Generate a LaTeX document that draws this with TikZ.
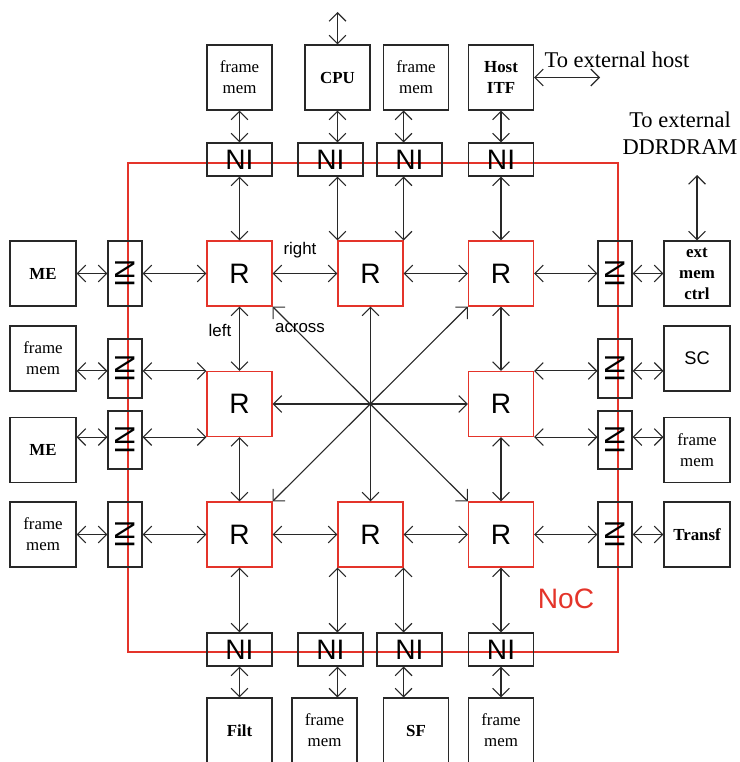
\documentclass[tikz,border=0pt]{standalone}
\usepackage{fontspec}
\setmainfont{Liberation Serif}
\setsansfont{Liberation Sans}
\usepackage{graphicx}
\usetikzlibrary{arrows.meta, positioning}
\definecolor{nocred}{RGB}{228,52,42}
\definecolor{linegray}{RGB}{40,40,40}

\begin{document}
\begin{tikzpicture}[x=0.025cm, y=-0.025cm, line width=0.8pt,
    >={Straight Barb[length=2.1mm,width=4.2mm]},
    unit/.style={draw=linegray, minimum width=1.625cm, minimum height=1.625cm, inner sep=1pt, align=center, font=\fontsize{12}{15}\selectfont},
    bunit/.style={unit, font=\fontsize{12}{15}\selectfont\bfseries},
    router/.style={draw=nocred, minimum width=1.625cm, minimum height=1.625cm, inner sep=0pt, font=\sffamily\fontsize{20}{20}\selectfont},
    ni/.style={draw=linegray, minimum width=1.625cm, minimum height=0.825cm, inner sep=0pt, font=\sffamily\fontsize{20}{20}\selectfont},
    sideni/.style={ni, minimum width=0.85cm, minimum height=1.625cm},
    link/.style={<->, draw=linegray},
    lbl/.style={font=\sffamily\fontsize{12}{14}\selectfont},
    ext/.style={align=center, inner sep=0pt, font=\fontsize{16}{19}\selectfont}]
    \useasboundingbox (0,0) rectangle (740,762);

    \draw[nocred] (128,163) rectangle (618,652);
    \node[text=nocred, font=\sffamily\fontsize{20}{20}\selectfont] (noclbl) at (566,599) {NoC};

    \node[unit] (fmt1) at (239.5,77.5) {frame\\mem};
    \node[bunit] (cpu) at (337.5,77.5) {CPU};
    \node[unit] (fmt2) at (416,77.5) {frame\\mem};
    \node[bunit] (host) at (501,77.5) {Host\\ITF};

    \node[ni] (nt1) at (239.5,159.5) {NI};
    \node[ni] (nt2) at (330.5,159.5) {NI};
    \node[ni] (nt3) at (409.5,159.5) {NI};
    \node[ni] (nt4) at (501,159.5) {NI};

    \node[router] (tl) at (239.5,273.5) {R};
    \node[router] (tm) at (370.5,273.5) {R};
    \node[router] (tr) at (501,273.5) {R};
    \node[router] (ml) at (239.5,404) {R};
    \node[router] (mr) at (501,404) {R};
    \node[router] (bl) at (239.5,534.5) {R};
    \node[router] (bm) at (370.5,534.5) {R};
    \node[router] (br) at (501,534.5) {R};

    \node[ni] (nb1) at (239.5,649.5) {NI};
    \node[ni] (nb2) at (330.5,649.5) {NI};
    \node[ni] (nb3) at (409.5,649.5) {NI};
    \node[ni] (nb4) at (501,649.5) {NI};

    \node[bunit] (filt) at (239.5,730.5) {Filt};
    \node[unit] (fmb1) at (324.5,730.5) {frame\\mem};
    \node[bunit] (sf) at (416,730.5) {SF};
    \node[unit] (fmb2) at (501,730.5) {frame\\mem};

    \node[bunit, minimum width=1.65cm] (me1) at (43,273.5) {ME};
    \node[unit, minimum width=1.65cm] (fml1) at (43,358.5) {frame\\mem};
    \node[bunit, minimum width=1.65cm] (me2) at (43,450) {ME};
    \node[unit, minimum width=1.65cm] (fml2) at (43,534.5) {frame\\mem};

    \node[sideni] (nl1) at (125,273.5) {\rotatebox{-90}{NI}};
    \node[sideni, minimum height=1.475cm] (nl2) at (125,368.5) {\rotatebox{-90}{NI}};
    \node[sideni, minimum height=1.45cm] (nl3) at (125,440) {\rotatebox{-90}{NI}};
    \node[sideni] (nl4) at (125,534.5) {\rotatebox{-90}{NI}};

    \node[sideni] (nr1) at (615,273.5) {\rotatebox{-90}{NI}};
    \node[sideni, minimum height=1.475cm] (nr2) at (615,368.5) {\rotatebox{-90}{NI}};
    \node[sideni, minimum height=1.45cm] (nr3) at (615,440) {\rotatebox{-90}{NI}};
    \node[sideni] (nr4) at (615,534.5) {\rotatebox{-90}{NI}};

    \node[bunit, minimum width=1.65cm] (emc) at (697,273.5) {ext\\mem\\ctrl};
    \node[unit, minimum width=1.65cm, font=\sffamily\fontsize{13}{15}\selectfont] (sc) at (697,358.5) {SC};
    \node[unit, minimum width=1.65cm] (fmr) at (697,450) {frame\\mem};
    \node[bunit, minimum width=1.65cm] (transf) at (697,534.5) {Transf};

    \coordinate (cpuext) at (337.5,12);
    \coordinate (hostext) at (600,77.5);
    \coordinate (ddrext) at (697,175);
    \node[ext] (hosttxt) at (617,60) {To external host};
    \node[ext] (ddrtxt) at (680,133) {To external\\DDRDRAM};
    \draw[link] (cpu.north) -- (cpuext);
    \draw[link] (host.east) -- (hostext);
    \draw[link] (ddrext) -- (emc.north);

    \draw[link] (fmt1.south) -- (nt1.north);
    \draw[link] (cpu.south -| tm.north west) -- (nt2.north -| tm.north west);
    \draw[link] (fmt2.south -| tm.north east) -- (nt3.north -| tm.north east);
    \draw[link] (host.south) -- (nt4.north);
    \draw[link] (nt1.south) -- (tl.north);
    \draw[link] (nt2.south -| tm.north west) -- (tm.north west);
    \draw[link] (nt3.south -| tm.north east) -- (tm.north east);
    \draw[link] (nt4.south) -- (tr.north);

    \draw[link] (bl.south) -- (nb1.north);
    \draw[link] (bm.south west) -- (nb2.north -| bm.south west);
    \draw[link] (bm.south east) -- (nb3.north -| bm.south east);
    \draw[link] (br.south) -- (nb4.north);
    \draw[link] (nb1.south) -- (filt.north);
    \draw[link] (nb2.south -| bm.south west) -- (fmb1.north -| bm.south west);
    \draw[link] (nb3.south -| bm.south east) -- (sf.north -| bm.south east);
    \draw[link] (nb4.south) -- (fmb2.north);

    \draw[link] (me1.east) -- (nl1.west);
    \draw[link] (nl1.east) -- (tl.west);
    \draw[link] (fml1.east |- ml.north west) -- (nl2.west |- ml.north west);
    \draw[link] (nl2.east |- ml.north west) -- (ml.north west);
    \draw[link] (me2.east |- ml.south west) -- (nl3.west |- ml.south west);
    \draw[link] (nl3.east |- ml.south west) -- (ml.south west);
    \draw[link] (fml2.east) -- (nl4.west);
    \draw[link] (nl4.east) -- (bl.west);

    \draw[link] (emc.west) -- (nr1.east);
    \draw[link] (nr1.west) -- (tr.east);
    \draw[link] (sc.west |- mr.north east) -- (nr2.east |- mr.north east);
    \draw[link] (nr2.west |- mr.north east) -- (mr.north east);
    \draw[link] (fmr.west |- mr.south east) -- (nr3.east |- mr.south east);
    \draw[link] (nr3.west |- mr.south east) -- (mr.south east);
    \draw[link] (transf.west) -- (nr4.east);
    \draw[link] (nr4.west) -- (br.east);

    \draw[link] (tl.east) -- (tm.west);
    \draw[link] (tm.east) -- (tr.west);
    \draw[link] (bl.east) -- (bm.west);
    \draw[link] (bm.east) -- (br.west);
    \draw[link] (tl.south) -- (ml.north);
    \draw[link] (ml.south) -- (bl.north);
    \draw[link] (tr.south) -- (mr.north);
    \draw[link] (mr.south) -- (br.north);
    \draw[link] (tl.south east) -- (br.north west);
    \draw[link] (tr.south west) -- (bl.north east);
    \draw[link] (tm.south) -- (bm.north);
    \draw[link] (ml.east) -- (mr.west);

    \node[lbl] (rightlbl) at (300,250) {right};
    \node[lbl] (leftlbl) at (220,330) {left};
    \node[lbl] (acrosslbl) at (300,328) {across};
\end{tikzpicture}
\end{document}
